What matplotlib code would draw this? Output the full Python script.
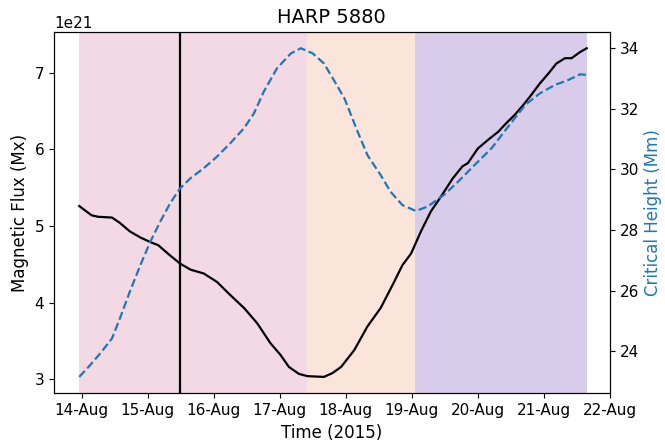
import matplotlib
matplotlib.use("Agg")
import matplotlib.pyplot as plt
import matplotlib.dates as mdates
from datetime import datetime, timedelta

# fractional day of August 2015
flux_days = [13.964, 14.15, 14.25, 14.46, 14.58, 14.73, 14.89, 15.04, 15.16, 15.32,
             15.49, 15.65, 15.85, 16.05, 16.25, 16.46, 16.66, 16.86, 17.01, 17.14,
             17.29, 17.42, 17.67, 17.80, 17.93, 18.13, 18.33, 18.53, 18.71, 18.86,
             18.99, 19.14, 19.29, 19.44, 19.62, 19.77, 19.85, 20.00, 20.15, 20.31,
             20.43, 20.56, 20.69, 20.81, 20.94, 21.07, 21.19, 21.32, 21.42, 21.55, 21.65]
flux = [5.26, 5.14, 5.12, 5.11, 5.04, 4.93, 4.85, 4.79, 4.75, 4.63,
        4.51, 4.43, 4.38, 4.27, 4.10, 3.93, 3.73, 3.47, 3.32, 3.16,
        3.07, 3.04, 3.03, 3.08, 3.16, 3.38, 3.69, 3.93, 4.23, 4.49,
        4.64, 4.93, 5.19, 5.38, 5.62, 5.78, 5.82, 6.01, 6.12, 6.23,
        6.34, 6.45, 6.58, 6.71, 6.86, 6.99, 7.12, 7.19, 7.19, 7.27, 7.32]

height_days = [13.964, 14.13, 14.28, 14.46, 14.58, 14.73, 14.89, 15.04, 15.19, 15.34,
               15.49, 15.65, 15.85, 16.05, 16.25, 16.46, 16.61, 16.76, 16.96, 17.17,
               17.32, 17.50, 17.67, 17.82, 17.98, 18.18, 18.33, 18.53, 18.68, 18.86,
               19.06, 19.24, 19.50, 19.70, 19.95, 20.21, 20.46, 20.72, 20.94, 21.17,
               21.37, 21.55, 21.65]
height = [23.15, 23.54, 23.92, 24.42, 25.08, 25.96, 26.84, 27.61, 28.27, 28.88,
          29.37, 29.71, 30.04, 30.42, 30.86, 31.36, 31.85, 32.57, 33.34, 33.83,
          34.00, 33.83, 33.50, 32.95, 32.35, 31.25, 30.47, 29.81, 29.26, 28.82,
          28.63, 28.77, 29.18, 29.59, 30.14, 30.70, 31.41, 32.13, 32.51, 32.79,
          32.95, 33.14, 33.12]

phase_edges = [13.964, 17.42, 19.05, 21.65]
phase_colors = ["#f2d9e4", "#fbe4da", "#d9cceb"]
event_day = 15.49


def to_date(d):
    return datetime(2015, 8, 1) + timedelta(days=d - 1)


plt.rcParams['xtick.labelsize'] = 11
plt.rcParams['ytick.labelsize'] = 11

fig, ax = plt.subplots(figsize=(6.65, 4.48), dpi=100)
fig.subplots_adjust(left=0.081, right=0.917, top=0.929, bottom=0.122)

for i in range(len(phase_colors)):
    ax.axvspan(to_date(phase_edges[i]), to_date(phase_edges[i + 1]),
               color=phase_colors[i], lw=0)

ax.plot([to_date(d) for d in flux_days], [f * 1e21 for f in flux], color="black", lw=1.6)
ax.axvline(to_date(event_day), color="black", lw=1.6)
ax.set_ylabel("Magnetic Flux (Mx)", fontsize=12)
ax.set_xlabel("Time (2015)", fontsize=12)
ax.set_title("HARP 5880", fontsize=14)

ax2 = ax.twinx()
ax2.plot([to_date(d) for d in height_days], height, color="#1f77b4", lw=1.6, ls="--")
ax2.set_ylabel("Critical Height (Mm)", color="#1f77b4", fontsize=12)

ax.xaxis.set_major_locator(mdates.DayLocator())
ax.xaxis.set_major_formatter(mdates.DateFormatter("%d-%b"))
ax.set_xlim(to_date(13.58), to_date(22.0))

plt.savefig("out.png")
